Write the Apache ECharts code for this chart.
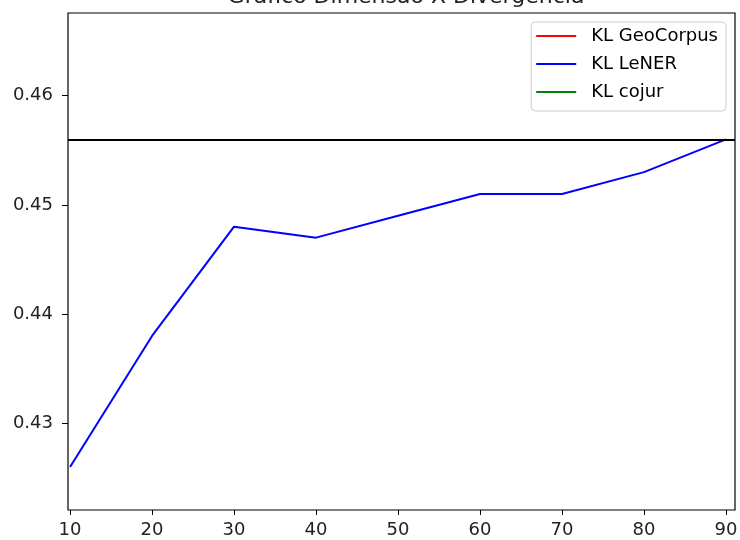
<!DOCTYPE html>
<html>
<head>
<meta charset="utf-8">
<script src="https://cdn.jsdelivr.net/npm/echarts@6/dist/echarts.min.js"></script>
<style>
  html, body { margin: 0; padding: 0; background: #fff; }
  #chart { width: 740px; height: 540px; }
</style>
</head>
<body>
<div id="chart"></div>
<script>
// dimension vs KL divergence
const dims = [10, 20, 30, 40, 50, 60, 70, 80, 90];
const klLener = [0.426, 0.438, 0.448, 0.447, 0.449, 0.451, 0.451, 0.453, 0.456];
const klGeoCorpus = [];
const klCojur = [];
const baseline = 0.456;
const xTicks = [10, 20, 30, 40, 50, 60, 70, 80, 90];
const yTicks = [0.43, 0.44, 0.45, 0.46];

const font = "DejaVu Sans";
const chart = echarts.init(document.getElementById("chart"));

const pair = (xs, ys) => ys.map((y, i) => [xs[i], y]);

chart.setOption({
  animation: false,
  backgroundColor: "#fff",
  title: {
    text: "Gráfico Dimensão X Divergência",
    left: 401, textAlign: "center", top: -19,
    textStyle: { fontFamily: font, fontSize: 22, fontWeight: "normal", color: "#222" },
  },
  grid: {
    left: 68, right: 5, top: 13, bottom: 30,
    outerBoundsMode: "none",
    show: true, borderColor: "#000", borderWidth: 1.2,
  },
  legend: {
    data: ["KL GeoCorpus", "KL LeNER", "KL cojur"],
    orient: "vertical", right: 14, top: 22,
    icon: "rect", itemWidth: 40, itemHeight: 2, itemGap: 10,
    padding: [5, 8, 10, 5],
    borderColor: "#ccc", borderWidth: 1, borderRadius: 4,
    backgroundColor: "rgba(255,255,255,0.8)",
    textStyle: { fontFamily: font, fontSize: 18, color: "#000", padding: [0, 0, 0, 10] },
  },
  xAxis: {
    type: "value", min: 9.75, max: 91.1,
    axisLine: { show: false },
    splitLine: { show: false },
    axisTick: { show: true, inside: false, length: 5, customValues: xTicks, lineStyle: { color: "#000" } },
    axisLabel: { customValues: xTicks, fontFamily: font, fontSize: 18, color: "#222", margin: 11 },
  },
  yAxis: {
    type: "value", min: 0.42206, max: 0.46757,
    axisLine: { show: false },
    splitLine: { show: false },
    axisTick: { show: true, inside: false, length: 6, customValues: yTicks, lineStyle: { color: "#000" } },
    axisLabel: {
      customValues: yTicks, fontFamily: font, fontSize: 18, color: "#222", margin: 15,
      formatter: v => v.toFixed(2),
    },
  },
  series: [
    {
      name: "KL GeoCorpus", type: "line", showSymbol: false,
      data: pair(dims, klGeoCorpus), lineStyle: { color: "#ff0000", width: 2 }, itemStyle: { color: "#ff0000" },
    },
    {
      name: "KL LeNER", type: "line", showSymbol: false,
      data: pair(dims, klLener), lineStyle: { color: "#0000ff", width: 2 }, itemStyle: { color: "#0000ff" },
    },
    {
      name: "KL cojur", type: "line", showSymbol: false,
      data: pair(dims, klCojur), lineStyle: { color: "#008000", width: 2 }, itemStyle: { color: "#008000" },
    },
    {
      name: "baseline", type: "line", data: [],
      markLine: {
        silent: true, symbol: "none", precision: 4, label: { show: false },
        lineStyle: { color: "#000", width: 2, type: "solid" },
        data: [{ yAxis: baseline }],
      },
    },
  ],
});
</script>
</body>
</html>
